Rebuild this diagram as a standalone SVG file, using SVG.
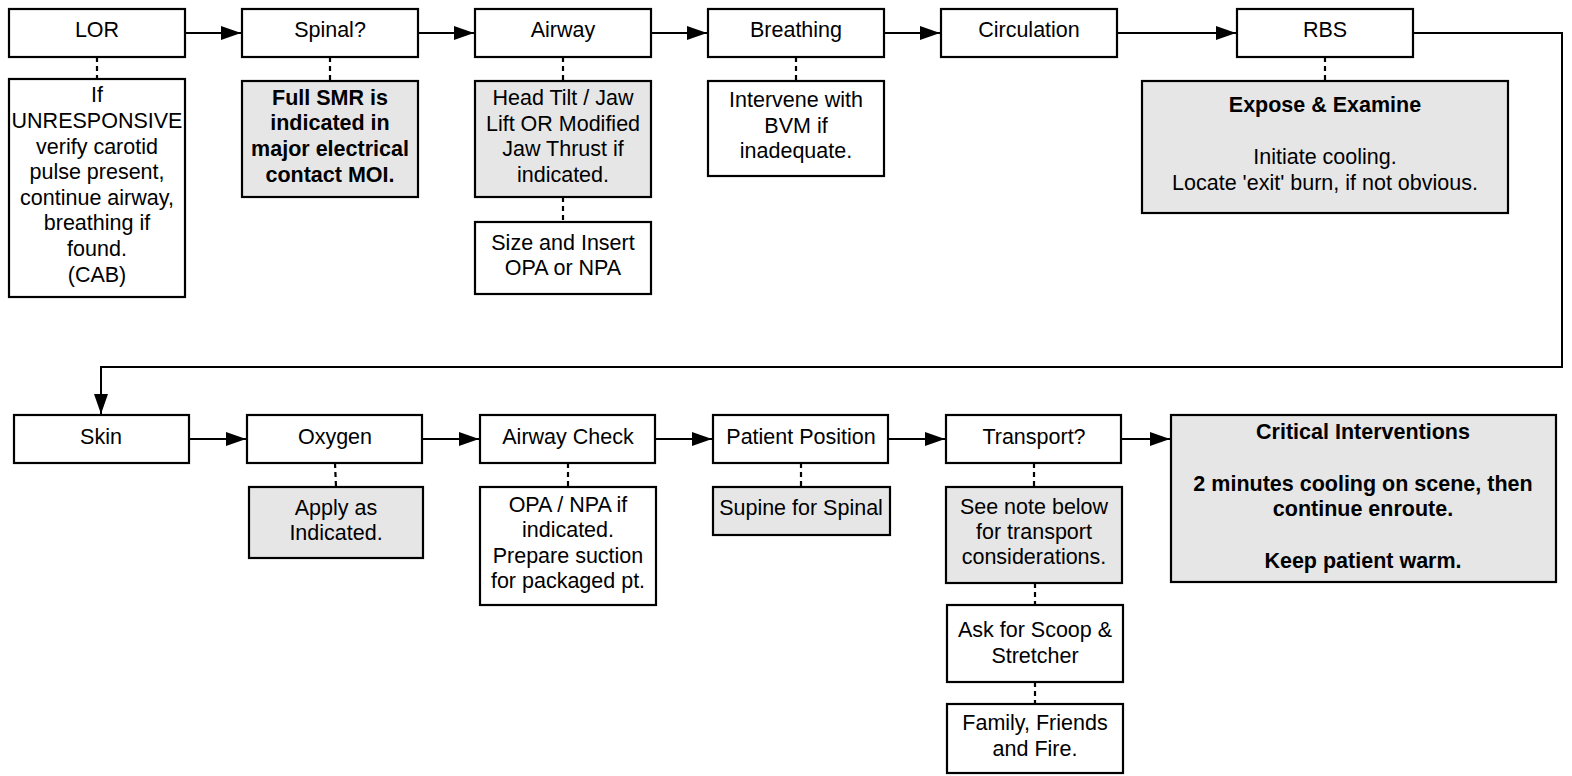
<svg xmlns="http://www.w3.org/2000/svg" width="1572" height="776" viewBox="0 0 1572 776">
<style>
rect{stroke:#000;stroke-width:2.2}
.w{fill:#fff}
.g{fill:#e6e6e6}
text{font-family:"Liberation Sans",Arial,sans-serif;font-size:21.5px;fill:#000;text-anchor:middle}
.b{font-weight:bold}
.c line,.c path{stroke:#000;stroke-width:2;fill:none}
.c .d{stroke-dasharray:5,4;stroke-width:2.2}
</style>
<defs>
<marker id="ah" markerUnits="userSpaceOnUse" markerWidth="22" markerHeight="16" refX="20" refY="7" orient="auto">
<path d="M0,0 L20,7 L0,14 z" fill="#000"/>
</marker>
</defs>
<rect width="1572" height="776" fill="#fff" style="stroke:none"/>
<g class="c" id="connectors">
<line x1="185" y1="33" x2="241" y2="33" marker-end="url(#ah)"/>
<line x1="418" y1="33" x2="474" y2="33" marker-end="url(#ah)"/>
<line x1="651" y1="33" x2="707" y2="33" marker-end="url(#ah)"/>
<line x1="884" y1="33" x2="940" y2="33" marker-end="url(#ah)"/>
<line x1="1117" y1="33" x2="1236" y2="33" marker-end="url(#ah)"/>
<path d="M1413,33 H1562 V367 H101 V414" marker-end="url(#ah)"/>
<line x1="189" y1="439" x2="246" y2="439" marker-end="url(#ah)"/>
<line x1="422" y1="439" x2="479" y2="439" marker-end="url(#ah)"/>
<line x1="655" y1="439" x2="712" y2="439" marker-end="url(#ah)"/>
<line x1="888" y1="439" x2="945" y2="439" marker-end="url(#ah)"/>
<line x1="1121" y1="439" x2="1170" y2="439" marker-end="url(#ah)"/>
<line class="d" x1="97" y1="57" x2="97" y2="79"/>
<line class="d" x1="330" y1="57" x2="330" y2="81"/>
<line class="d" x1="563" y1="57" x2="563" y2="81"/>
<line class="d" x1="563" y1="197" x2="563" y2="222"/>
<line class="d" x1="796" y1="57" x2="796" y2="81"/>
<line class="d" x1="1325" y1="57" x2="1325" y2="81"/>
<line class="d" x1="335" y1="463" x2="336" y2="487"/>
<line class="d" x1="568" y1="463" x2="568" y2="487"/>
<line class="d" x1="801" y1="463" x2="801" y2="487"/>
<line class="d" x1="1034" y1="463" x2="1034" y2="487"/>
<line class="d" x1="1035" y1="583" x2="1035" y2="605"/>
<line class="d" x1="1035" y1="682" x2="1035" y2="704"/>
</g>
<g id="lor"><rect class="w" x="9" y="9" width="176" height="48"/><text x="97" y="37">LOR</text></g>
<g id="lor-note"><rect class="w" x="9" y="79" width="176" height="218"/>
<text x="97" y="102">If</text><text x="97" y="128">UNRESPONSIVE</text><text x="97" y="154">verify carotid</text><text x="97" y="179">pulse present,</text><text x="97" y="205">continue airway,</text><text x="97" y="230">breathing if</text><text x="97" y="256">found.</text><text x="97" y="282">(CAB)</text></g>
<g id="spinal"><rect class="w" x="242" y="9" width="176" height="48"/><text x="330" y="37">Spinal?</text></g>
<g id="spinal-note"><rect class="g" x="242" y="81" width="176" height="116"/>
<text class="b" x="330" y="105">Full SMR is</text><text class="b" x="330" y="130">indicated in</text><text class="b" x="330" y="156">major electrical</text><text class="b" x="330" y="182">contact MOI.</text></g>
<g id="airway"><rect class="w" x="475" y="9" width="176" height="48"/><text x="563" y="37">Airway</text></g>
<g id="airway-note"><rect class="g" x="475" y="81" width="176" height="116"/>
<text x="563" y="105">Head Tilt / Jaw</text><text x="563" y="131">Lift OR Modified</text><text x="563" y="156">Jaw Thrust if</text><text x="563" y="182">indicated.</text></g>
<g id="airway-note2"><rect class="w" x="475" y="222" width="176" height="72"/>
<text x="563" y="250">Size and Insert</text><text x="563" y="275">OPA or NPA</text></g>
<g id="breathing"><rect class="w" x="708" y="9" width="176" height="48"/><text x="796" y="37">Breathing</text></g>
<g id="breathing-note"><rect class="w" x="708" y="81" width="176" height="95"/>
<text x="796" y="107">Intervene with</text><text x="796" y="133">BVM if</text><text x="796" y="158">inadequate.</text></g>
<g id="circulation"><rect class="w" x="941" y="9" width="176" height="48"/><text x="1029" y="37">Circulation</text></g>
<g id="rbs"><rect class="w" x="1237" y="9" width="176" height="48"/><text x="1325" y="37">RBS</text></g>
<g id="rbs-note"><rect class="g" x="1142" y="81" width="366" height="132"/>
<text class="b" x="1325" y="112">Expose &amp; Examine</text><text x="1325" y="164">Initiate cooling.</text><text x="1325" y="190">Locate 'exit' burn, if not obvious.</text></g>
<g id="skin"><rect class="w" x="14" y="415" width="175" height="48"/><text x="101" y="444">Skin</text></g>
<g id="oxygen"><rect class="w" x="247" y="415" width="175" height="48"/><text x="335" y="444">Oxygen</text></g>
<g id="oxygen-note"><rect class="g" x="249" y="487" width="174" height="71"/>
<text x="336" y="515">Apply as</text><text x="336" y="540">Indicated.</text></g>
<g id="airway-check"><rect class="w" x="480" y="415" width="175" height="48"/><text x="568" y="444">Airway Check</text></g>
<g id="airway-check-note"><rect class="w" x="480" y="487" width="176" height="118"/>
<text x="568" y="512">OPA / NPA if</text><text x="568" y="537">indicated.</text><text x="568" y="563">Prepare suction</text><text x="568" y="588">for packaged pt.</text></g>
<g id="patient-position"><rect class="w" x="713" y="415" width="175" height="48"/><text x="801" y="444">Patient Position</text></g>
<g id="patient-position-note"><rect class="g" x="713" y="487" width="177" height="48"/><text x="801" y="515">Supine for Spinal</text></g>
<g id="transport"><rect class="w" x="946" y="415" width="175" height="48"/><text x="1034" y="444">Transport?</text></g>
<g id="transport-note"><rect class="g" x="946" y="487" width="176" height="96"/>
<text x="1034" y="514">See note below</text><text x="1034" y="539">for transport</text><text x="1034" y="564">considerations.</text></g>
<g id="scoop"><rect class="w" x="947" y="605" width="176" height="77"/>
<text x="1035" y="637">Ask for Scoop &amp;</text><text x="1035" y="663">Stretcher</text></g>
<g id="family"><rect class="w" x="947" y="704" width="176" height="69"/>
<text x="1035" y="730">Family, Friends</text><text x="1035" y="756">and Fire.</text></g>
<g id="critical"><rect class="g" x="1171" y="415" width="385" height="167"/>
<text class="b" x="1363" y="439">Critical Interventions</text><text class="b" x="1363" y="491">2 minutes cooling on scene, then</text><text class="b" x="1363" y="516">continue enroute.</text><text class="b" x="1363" y="568">Keep patient warm.</text></g>
</svg>
